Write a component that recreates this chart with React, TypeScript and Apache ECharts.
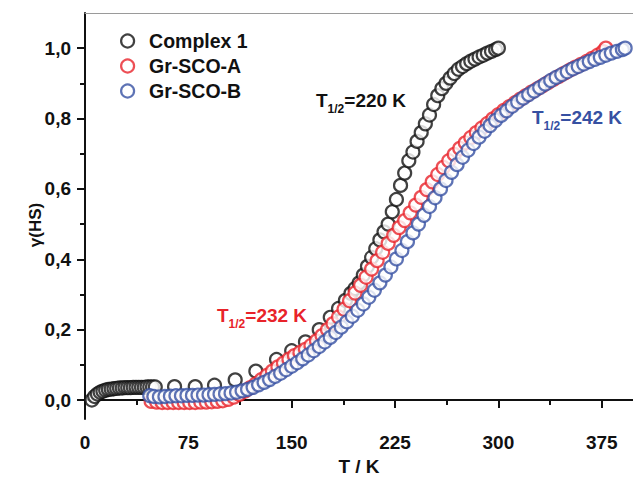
import React, { useEffect, useRef } from "react";
import * as echarts from "echarts";

// Temperature (K) and high-spin fraction γ(HS) for each sample
const complexT = [5, 7, 9, 11, 13, 15, 17, 19, 21, 23, 25, 27, 29, 31, 33, 35, 37, 39, 41, 43, 45, 47, 49, 51,
  65, 80, 94, 109, 124, 139, 150, 160, 170, 178, 184, 189, 193, 196, 199, 202, 205, 208, 211, 214, 217, 220,
  223, 226, 229, 232, 235, 238, 241, 244, 247, 250, 253, 256, 259, 262, 265, 268, 271, 274, 277, 280, 283,
  286, 289, 292, 295, 298, 300];
const complexG = [0.0, 0.01, 0.017, 0.022, 0.025, 0.028, 0.03, 0.031, 0.032, 0.033, 0.034, 0.034, 0.035, 0.035,
  0.035, 0.036, 0.036, 0.036, 0.036, 0.036, 0.037, 0.037, 0.037, 0.037,
  0.038, 0.038, 0.042, 0.057, 0.082, 0.115, 0.14, 0.165, 0.2, 0.235, 0.26, 0.283, 0.303, 0.317, 0.333, 0.355,
  0.38, 0.405, 0.43, 0.455, 0.478, 0.5, 0.535, 0.57, 0.61, 0.645, 0.68, 0.705, 0.735, 0.76, 0.785, 0.81, 0.84,
  0.865, 0.885, 0.9, 0.915, 0.928, 0.94, 0.948, 0.956, 0.963, 0.969, 0.975, 0.98, 0.986, 0.991, 0.996, 1.0];

const sampleAT = [48, 52, 56, 60, 64, 68, 72, 76, 80, 84, 88, 92, 96, 100, 104, 108, 112, 116, 120, 124, 128,
  132, 136, 140, 144, 148, 152, 156, 160, 164, 168, 172, 176, 180, 184, 188, 192, 196, 200, 204, 208, 212, 216,
  220, 224, 228, 232, 236, 240, 244, 248, 252, 256, 260, 264, 268, 272, 276, 280, 284, 288, 292, 296, 300, 304,
  308, 312, 316, 320, 324, 328, 332, 336, 340, 344, 348, 352, 356, 360, 364, 368, 372, 376, 378];
const sampleAG = [-0.004, -0.006, -0.007, -0.007, -0.007, -0.007, -0.007, -0.007, -0.007, -0.006, -0.006,
  -0.005, -0.004, -0.002, 0.002, 0.008, 0.016, 0.025, 0.035, 0.046, 0.058, 0.07, 0.082, 0.094, 0.105, 0.116,
  0.126, 0.135, 0.144, 0.155, 0.168, 0.183, 0.2, 0.217, 0.236, 0.258, 0.282, 0.304, 0.326, 0.349, 0.372, 0.396,
  0.42, 0.445, 0.468, 0.49, 0.51, 0.532, 0.554, 0.576, 0.598, 0.62, 0.641, 0.661, 0.68, 0.698, 0.715, 0.731,
  0.746, 0.76, 0.773, 0.786, 0.799, 0.811, 0.823, 0.834, 0.845, 0.855, 0.865, 0.875, 0.884, 0.893, 0.902,
  0.911, 0.92, 0.929, 0.938, 0.946, 0.954, 0.962, 0.971, 0.98, 0.99, 1.0];

const sampleBT = [47, 50, 54, 58, 62, 66, 70, 74, 78, 82, 86, 90, 94, 98, 102, 106, 110, 114, 118, 122, 126,
  130, 134, 138, 142, 146, 150, 154, 158, 162, 166, 170, 174, 178, 182, 186, 190, 194, 198, 202, 206, 210, 214,
  218, 222, 226, 230, 234, 238, 242, 246, 250, 254, 258, 262, 266, 270, 274, 278, 282, 286, 290, 294, 298, 302,
  306, 310, 314, 318, 322, 326, 330, 334, 338, 342, 346, 350, 354, 358, 362, 366, 370, 374, 378, 382, 386,
  390, 392];
const sampleBG = [0.012, 0.01, 0.009, 0.01, 0.011, 0.012, 0.012, 0.013, 0.013, 0.014, 0.014, 0.015, 0.016,
  0.017, 0.018, 0.02, 0.022, 0.026, 0.03, 0.036, 0.043, 0.05, 0.058, 0.067, 0.076, 0.086, 0.096, 0.106, 0.117,
  0.128, 0.14, 0.152, 0.165, 0.178, 0.192, 0.207, 0.222, 0.238, 0.255, 0.273, 0.292, 0.312, 0.333, 0.355,
  0.378, 0.401, 0.425, 0.45, 0.475, 0.5, 0.525, 0.55, 0.575, 0.6, 0.624, 0.647, 0.669, 0.69, 0.71, 0.729,
  0.747, 0.764, 0.78, 0.795, 0.809, 0.822, 0.835, 0.847, 0.858, 0.868, 0.878, 0.888, 0.898, 0.908, 0.917,
  0.925, 0.933, 0.941, 0.948, 0.955, 0.962, 0.968, 0.974, 0.98, 0.986, 0.991, 0.996, 1.0];

const xMajorTicks = [0, 75, 150, 225, 300, 375];
const xMinorTicks = [37.5, 112.5, 187.5, 262.5, 337.5];
const yMajorTicks = [0, 0.2, 0.4, 0.6, 0.8, 1.0];
const yMinorTicks = [0.1, 0.3, 0.5, 0.7, 0.9];

const FONT = "'Liberation Sans', Arial, sans-serif";
const BLACK = "#111111";
const RED = "#e8232a";
const BLUE = "#3650a2";

const pairs = (xs: number[], ys: number[]) => xs.map((x, i) => [x, ys[i]]);

const markerStyle = (c: string) => ({ color: "#ffffff", borderColor: c, borderWidth: 2.2 });

const halfLabel = (x: number, y: number, value: string, color: string) => ({
  type: "text",
  left: x,
  top: y,
  style: {
    text: `{a|T}{s|1/2}{a|=${value} K}`,
    fill: color,
    rich: {
      a: { fontFamily: FONT, fontWeight: "bold", fontSize: 19, fill: color, lineHeight: 22 },
      s: { fontFamily: FONT, fontWeight: "bold", fontSize: 12, fill: color, verticalAlign: "bottom", lineHeight: 14, padding: [0, 0, -3, 0] },
    },
  },
});

export default function App() {
  const ref = useRef<HTMLDivElement>(null);

  useEffect(() => {
    document.body.style.margin = "0";
    if (!ref.current) return;
    const chart = echarts.init(ref.current, undefined, { renderer: "svg" });

    const xMin = 0;
    const xMax = 397.7;
    const yMin = -0.054;
    const yMax = 1.1;

    chart.setOption({
      animation: false,
      backgroundColor: "#ffffff",
      grid: { left: 85, right: 0, top: 13, bottom: 66 },
      legend: {
        orient: "vertical",
        left: 115,
        top: 26,
        itemWidth: 13,
        itemHeight: 13,
        itemGap: 5,
        icon: "circle",
        textStyle: { fontFamily: FONT, fontWeight: "bold", fontSize: 19.5, color: "#111", padding: [0, 0, 0, 10] },
        data: [
          { name: "Complex 1", itemStyle: markerStyle(BLACK) },
          { name: "Gr-SCO-A", itemStyle: markerStyle(RED) },
          { name: "Gr-SCO-B", itemStyle: markerStyle(BLUE) },
        ],
      },
      xAxis: [
        {
          type: "value",
          min: xMin,
          max: xMax,
          position: "bottom",
          name: "T / K",
          nameLocation: "middle",
          nameGap: 30,
          nameTextStyle: { fontFamily: FONT, fontWeight: "bold", fontSize: 19, color: "#111" },
          axisLine: { lineStyle: { color: "#111", width: 2 } },
          axisTick: { customValues: xMajorTicks, length: 8, lineStyle: { color: "#111", width: 2 } },
          axisLabel: {
            customValues: xMajorTicks,
            margin: 14,
            fontFamily: FONT,
            fontWeight: "bold",
            fontSize: 19,
            color: "#111",
          },
          splitLine: { show: false },
        },
        {
          type: "value",
          min: xMin,
          max: xMax,
          position: "bottom",
          axisLine: { show: false },
          axisTick: { customValues: xMinorTicks, length: 5, lineStyle: { color: "#111", width: 2 } },
          axisLabel: { show: false },
          splitLine: { show: false },
        },
        {
          type: "value",
          min: xMin,
          max: xMax,
          position: "top",
          axisLine: { lineStyle: { color: "#9a9a9a", width: 1 } },
          axisTick: { show: false },
          axisLabel: { show: false },
          splitLine: { show: false },
        },
      ],
      yAxis: [
        {
          type: "value",
          min: yMin,
          max: yMax,
          position: "left",
          axisLine: { show: true, lineStyle: { color: "#111", width: 2 } },
          axisTick: { show: true, customValues: yMajorTicks, length: 8, lineStyle: { color: "#111", width: 2 } },
          axisLabel: {
            customValues: yMajorTicks,
            margin: 14,
            fontFamily: FONT,
            fontWeight: "bold",
            fontSize: 19,
            color: "#111",
            formatter: (v: number) => v.toFixed(1).replace(".", ","),
          },
          splitLine: { show: false },
        },
        {
          type: "value",
          min: yMin,
          max: yMax,
          position: "left",
          axisLine: { show: false },
          axisTick: { show: true, customValues: yMinorTicks, length: 5, lineStyle: { color: "#111", width: 2 } },
          axisLabel: { show: false },
          splitLine: { show: false },
        },
      ],
      graphic: [
        {
          type: "text",
          x: 35,
          y: 225,
          rotation: Math.PI / 2,
          style: {
            text: "γ(HS)",
            fontFamily: FONT,
            fontWeight: "bold",
            fontSize: 17,
            fill: "#111",
            align: "center",
            verticalAlign: "middle",
          },
        },
        halfLabel(316, 91, "220", BLACK),
        halfLabel(532, 108, "242", BLUE),
        halfLabel(217, 306, "232", RED),
      ],
      series: [
        {
          name: "Complex 1",
          type: "scatter",
          symbol: "circle",
          symbolSize: 13,
          itemStyle: markerStyle(BLACK),
          data: pairs(complexT, complexG),
        },
        {
          name: "Gr-SCO-A",
          type: "scatter",
          symbol: "circle",
          symbolSize: 13,
          itemStyle: markerStyle(RED),
          data: pairs(sampleAT, sampleAG),
        },
        {
          name: "Gr-SCO-B",
          type: "scatter",
          symbol: "circle",
          symbolSize: 13,
          itemStyle: markerStyle(BLUE),
          data: pairs(sampleBT, sampleBG),
        },
      ],
    });

    return () => chart.dispose();
  }, []);

  return <div ref={ref} style={{ width: 633, height: 485 }} />;
}
